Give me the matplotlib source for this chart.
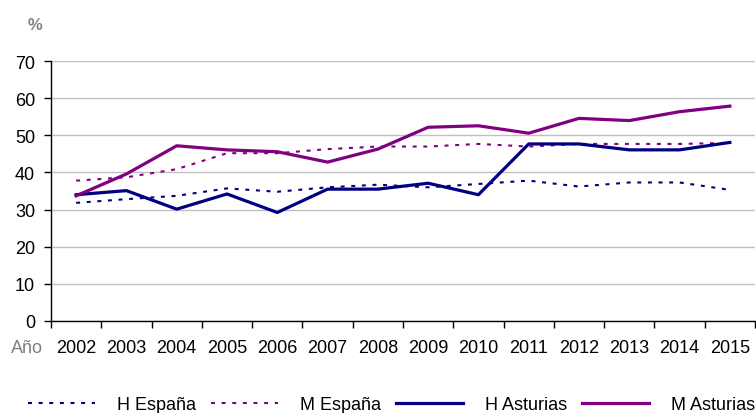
import matplotlib
matplotlib.use("Agg")
import matplotlib.pyplot as plt

years = ["2002", "2003", "2004", "2005", "2006", "2007", "2008",
         "2009", "2010", "2011", "2012", "2013", "2014", "2015"]
h_espana = [31.8, 32.8, 33.7, 35.7, 34.8, 36.0, 36.7, 36.0, 36.9, 37.8, 36.2, 37.3, 37.3, 35.3]
m_espana = [37.8, 38.7, 40.9, 45.2, 45.2, 46.3, 47.0, 47.0, 47.7, 47.0, 47.7, 47.7, 47.7, 48.0]
h_asturias = [34.0, 35.1, 30.1, 34.2, 29.2, 35.5, 35.5, 37.1, 34.0, 47.7, 47.7, 46.1, 46.1, 48.1]
m_asturias = [33.7, 39.6, 47.2, 46.1, 45.6, 42.8, 46.3, 52.2, 52.6, 50.6, 54.6, 54.0, 56.4, 57.9]

NAVY = "#000080"
PURPLE = "#800080"
GREY = "#808080"

plt.rcParams["font.family"] = ["Liberation Sans", "DejaVu Sans"]

fig = plt.figure(figsize=(7.56, 4.14), dpi=100)
ax = fig.add_axes([51 / 756, 1 - 321.7 / 414, 704 / 756, 259.4 / 414])

x = range(len(years))
dots = (1.9, 3.2)
ax.plot(x, h_espana, color=NAVY, lw=1.5, dashes=dots, label="H España")
ax.plot(x, m_espana, color=PURPLE, lw=1.5, dashes=dots, label="M España")
ax.plot(x, h_asturias, color=NAVY, lw=2.3, label="H Asturias", solid_joinstyle="round")
ax.plot(x, m_asturias, color=PURPLE, lw=2.3, label="M Asturias", solid_joinstyle="round")

ax.set_xlim(-0.5, len(years) - 0.5)
ax.set_ylim(0, 70)
ax.set_yticks(range(0, 71, 10))
ax.yaxis.grid(True, color="#c0c0c0", lw=1)
ax.set_axisbelow(True)
for side in ("top", "right"):
    ax.spines[side].set_visible(False)
for side in ("left", "bottom"):
    ax.spines[side].set_linewidth(1)

ax.set_xticks(list(x))
ax.set_xticklabels(years, fontsize=13)
ax.set_xticks([i - 0.5 for i in range(len(years) + 1)], minor=True)
ax.tick_params(axis="x", which="major", length=0, pad=13)
ax.tick_params(axis="x", which="minor", length=5, width=1, direction="out")
ax.tick_params(axis="y", length=5, width=1, labelsize=13, pad=6.5)

fig.text(35 / 756, 1 - 25 / 414, "%", color=GREY, fontsize=12, fontweight="bold",
         ha="center", va="center")
fig.text(11 / 756, 1 - 353 / 414, "Año", color=GREY, fontsize=13,
         ha="left", va="baseline")

fig.legend(loc="center", bbox_to_anchor=(0.518, 1 - 406 / 414), ncol=4,
           frameon=False, fontsize=13, handlelength=3.7, handletextpad=1.22,
           columnspacing=0.84, borderaxespad=0, borderpad=0)

fig.savefig("out.png", dpi=100)
